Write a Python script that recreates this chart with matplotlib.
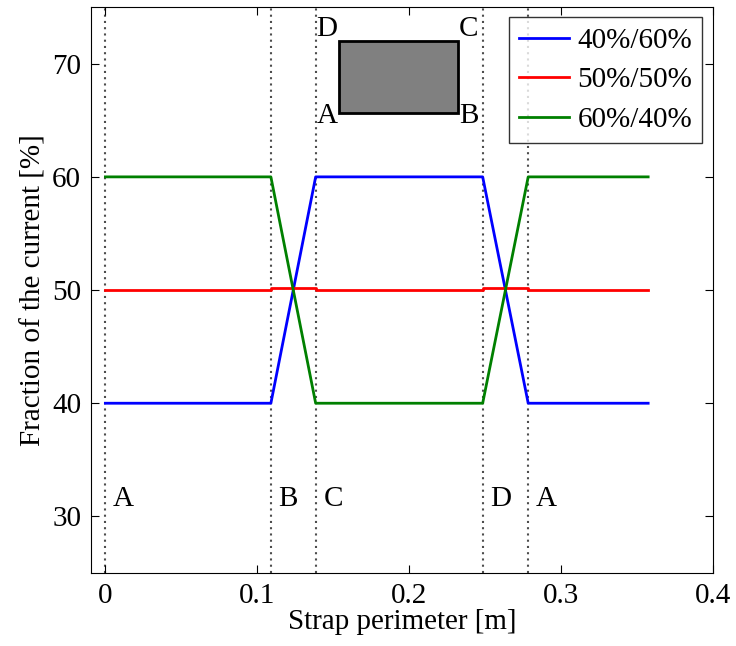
import numpy as np
import matplotlib
matplotlib.use("Agg")
import matplotlib.pyplot as plt
from matplotlib.patches import Rectangle

plt.rcParams['font.family'] = ['Liberation Serif', 'DejaVu Serif']
plt.rcParams['mathtext.fontset'] = 'stix'

# corner positions along the strap perimeter [m]
corner_x = [0.0, 0.109, 0.1385, 0.2485, 0.2785]
corner_names = ['A', 'B', 'C', 'D', 'A']
x_end = 0.3575

# current fraction at the vertices [%]
x_pts = [0.0, 0.109, 0.1385, 0.2485, 0.2785, x_end]
y_40_60 = [40, 40, 60, 60, 40, 40]
y_60_40 = [60, 60, 40, 40, 60, 60]
x_mid = [0.0, 0.109, 0.109, 0.1385, 0.1385, 0.2485, 0.2485, 0.2785, 0.2785, x_end]
y_50_50 = [50, 50, 50.2, 50.2, 50, 50, 50.2, 50.2, 50, 50]

FS = 21

fig = plt.figure(figsize=(7.36, 6.46), dpi=100)
ax = fig.add_axes([0.1236, 0.113, 0.8447, 0.876])

for xc in corner_x:
    ax.axvline(xc, color='0.3', linestyle=(0, (1, 2)), linewidth=1.5, zorder=1)
for xc, name in zip(corner_x, corner_names):
    ax.text(xc + 0.005, 31.5, name, fontsize=FS, va='center', ha='left')

ax.plot(x_pts, y_40_60, color='#0000ff', lw=2, label='40%/60%', zorder=3)
ax.plot(x_mid, y_50_50, color='#ff0000', lw=2, label='50%/50%', zorder=3)
ax.plot(x_pts, y_60_40, color='#008000', lw=2, label='60%/40%', zorder=3)

# cross-section sketch of the strap
rx0, rx1, ry0, ry1 = 0.154, 0.232, 65.6, 72.0
ax.add_patch(Rectangle((rx0, ry0), rx1 - rx0, ry1 - ry0, facecolor='#808080',
                       edgecolor='black', lw=2, zorder=4))
ax.text(rx0 - 0.001, ry0 - 0.2, 'A', fontsize=FS, ha='right', va='center')
ax.text(rx1 + 0.001, ry0 - 0.2, 'B', fontsize=FS, ha='left', va='center')
ax.text(rx1 + 0.001, ry1 + 1.1, 'C', fontsize=FS, ha='left', va='center')
ax.text(rx0 - 0.001, ry1 + 1.1, 'D', fontsize=FS, ha='right', va='center')

ax.set_xlim(-0.0095, 0.4)
ax.set_ylim(25, 75)
ax.set_xticks([0, 0.1, 0.2, 0.3, 0.4])
ax.set_xticklabels(['0', '0.1', '0.2', '0.3', '0.4'])
ax.set_yticks([30, 40, 50, 60, 70])
ax.tick_params(direction='in', top=True, right=True, labelsize=FS, length=6, pad=7)
ax.set_xlabel('Strap perimeter [m]', fontsize=FS, labelpad=0)
ax.set_ylabel('Fraction of the current [%]', fontsize=FS, labelpad=4)

leg = ax.legend(loc='upper right', fontsize=FS, frameon=True, fancybox=False,
                edgecolor='black', handlelength=1.7, borderaxespad=0.35,
                labelspacing=0.45, handletextpad=0.3, borderpad=0.35)
leg.get_frame().set_linewidth(1.0)

fig.savefig('out.png', dpi=100)
